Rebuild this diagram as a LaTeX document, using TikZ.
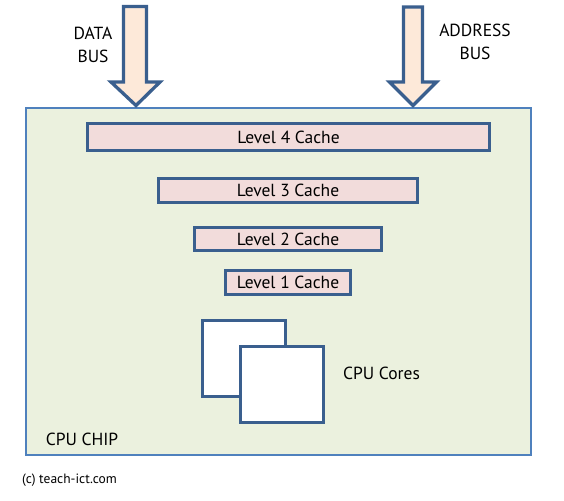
\documentclass[tikz,border=0pt]{standalone}
\usepackage{fontspec}
\setmainfont{PT Sans}
\usetikzlibrary{positioning}
\definecolor{chipfill}{HTML}{EBF1DE}
\definecolor{chipline}{HTML}{4F81BD}
\definecolor{cachefill}{HTML}{F2DCDB}
\definecolor{boxline}{HTML}{3A5F8E}
\definecolor{busfill}{HTML}{FDE9D9}
\tikzset{
  cache/.style={draw=boxline, fill=cachefill, line width=3.3pt, inner sep=0pt,
    font=\fontsize{17.5}{20}\selectfont},
  core/.style={draw=boxline, fill=white, line width=3.3pt, inner sep=0pt,
    minimum width=83pt, minimum height=76pt},
  bus/.style={draw=boxline, fill=busfill, line width=3.3pt},
  lbl/.style={font=\fontsize{17.5}{23}\selectfont, align=center, inner sep=0pt}
}
\begin{document}
\begin{tikzpicture}[x=1pt, y=-1pt]
  \useasboundingbox[fill=white] (0,0) rectangle (564,500);
  % chip
  \node[draw=chipline, fill=chipfill, line width=2.7pt, minimum width=505pt,
    minimum height=347pt, inner sep=0pt] (chip) at (278.5,281.5) {};
  % caches
  \node[cache, minimum width=402pt, minimum height=27pt] (l4) at (288.5,137) {Level 4 Cache};
  \node[cache, minimum width=259pt, minimum height=24pt] (l3) at (288,190.5) {Level 3 Cache};
  \node[cache, minimum width=187pt, minimum height=23pt] (l2) at (288,239) {Level 2 Cache};
  \node[cache, minimum width=125pt, minimum height=24pt] (l1) at (288,282.5) {Level 1 Cache};
  % cores
  \node[core] (core1) at (244,358.5) {};
  \node[core] (core2) at (282,384.5) {};
  % buses
  \draw[bus] (123.5,6.5) -- (146.5,6.5) -- (146.5,82) -- (160,82) -- (136,105.5)
    -- (111,82) -- (123.5,82) -- cycle;
  \draw[bus] (403.5,7) -- (422.5,7) -- (422.5,82) -- (436.5,82) -- (413,105.5)
    -- (389.5,82) -- (403.5,82) -- cycle;
  % labels
  \node[lbl] (data) at (93,44.5) {DATA\\BUS};
  \node[lbl] (addr) at (475,41.5) {ADDRESS\\BUS};
  \node[lbl] (cores) at (381.5,373) {CPU Cores};
  \node[lbl] (cpuchip) at (82,439.5) {CPU CHIP};
  \node[lbl, font=\fontsize{13.5}{15}\selectfont] (copy) at (69.5,480) {(c) teach-ict.com};
\end{tikzpicture}
\end{document}
